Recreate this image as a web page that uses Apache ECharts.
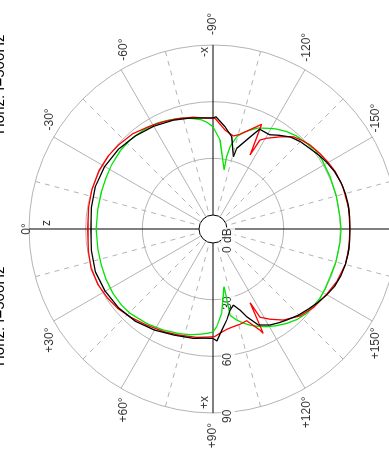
<!DOCTYPE html>
<html>
<head>
<meta charset="utf-8">
<script src="https://cdn.jsdelivr.net/npm/echarts@6/dist/echarts.min.js"></script>
<style>
  html, body { margin: 0; padding: 0; background: #fff; overflow: hidden; width: 389px; height: 457px; }
  /* the polar plot is laid out upright and then turned a quarter turn counter-clockwise */
  #chart { position: absolute; left: 0; top: 0; width: 457px; height: 389px;
           transform-origin: 0 0; transform: translate(0, 457px) rotate(-90deg); }
</style>
</head>
<body>
<div id="chart"></div>
<script>
// Directivity, horizontal plane, f = 500 Hz.
// Angles in degrees (0 = front, +90 = +x side, -90 = -x side), levels on the radial scale.
const blackAngles = [-180, -175, -170, -165, -160, -155, -150, -145, -140, -135, -130, -125, -121, -115, -112, -106.4, -105.7, -101.5, -96.7, -91.5, -90, -85, -78, -70, -60, -50, -40, -30, -20, -10, 0, 10, 20, 30, 40, 50, 60, 70, 80, 85, 90, 92, 95, 98.6, 102, 105, 108.4, 111, 115.3, 120.7, 125, 129, 135, 140, 145, 150, 155, 160, 165, 170, 175];
const blackLevels = [65.1, 65.2, 65.3, 65.1, 64.7, 63.8, 62.5, 60.9, 59.2, 58.0, 56.2, 53.2, 50.8, 50.9, 45.2, 37.1, 32.3, 42.4, 47.1, 52.0, 51.4, 51.6, 52.6, 53.9, 55.4, 56.8, 58.1, 58.8, 58.8, 58.0, 57.2, 58.0, 58.9, 58.5, 57.7, 56.4, 54.4, 52.4, 51.4, 50.6, 50.5, 51.9, 46.3, 41.3, 36.4, 34.3, 37.8, 42.3, 48.8, 51.7, 53.2, 54.6, 56.9, 58.5, 60.4, 62.2, 63.8, 64.7, 65.1, 65.3, 65.2];

const redAngles = [-180, -172, -162, -155, -150, -145, -139, -135, -131, -126, -120.6, -117.8, -116.6, -114.9, -105.9, -102.3, -96.9, -91, -85, -80, -72, -65, -58, -50, -42, -35, -27, -18, -10, 0, 10, 18, 26, 33, 40, 46.6, 55, 64.2, 72, 81.4, 88, 91, 93.8, 97.8, 101.7, 105.8, 110.2, 114.9, 115.7, 116.7, 118, 122.3, 127.7, 135, 142, 150, 157, 165, 172];
const redLevels = [65.1, 65.3, 64.9, 64.1, 63.0, 61.9, 60.5, 59.0, 57.3, 52.9, 48.4, 45.8, 36.4, 53.7, 44.7, 43.0, 45.4, 51.2, 51.6, 52.7, 54.0, 55.2, 56.6, 58.5, 59.5, 60.2, 60.4, 60.0, 59.5, 58.9, 59.6, 60.4, 60.2, 59.3, 58.2, 56.6, 54.5, 52.9, 51.6, 50.6, 49.8, 49.5, 47.9, 46.2, 45.4, 45.0, 44.3, 51.6, 53.9, 36.3, 45.5, 49.1, 53.5, 57.7, 60.1, 61.9, 63.8, 65.1, 65.3];

const greenAngles = [-180, -174.5, -165, -156, -148, -142, -137.6, -132, -127, -122, -118, -114, -110.5, -107, -104.4, -101.7, -100.7, -100.6, -94.5, -90, -87, -84, -80, -75, -68, -62, -55, -47, -40, -32, -25, -18, -10, 0, 10, 18, 25, 33, 40, 45.4, 55, 63.8, 72, 78, 83, 87, 90, 92.2, 95.9, 100.8, 101.2, 104.6, 108, 111, 115, 118.8, 123, 128, 133, 138, 146.7, 152, 157.8, 165, 173.6];
const greenLevels = [60.4, 60.1, 60.2, 60.5, 60.9, 60.9, 59.8, 58.8, 57.2, 55.1, 53.0, 51.1, 48.5, 45.8, 43.0, 37.1, 31.6, 24.4, 39.9, 46.7, 49.0, 50.7, 51.9, 53.5, 54.8, 56.0, 56.6, 57.0, 56.8, 56.1, 55.3, 54.8, 54.5, 54.5, 54.5, 54.7, 55.2, 55.6, 55.6, 55.2, 53.7, 52.2, 50.8, 49.8, 48.7, 47.9, 47.1, 44.3, 37.5, 23.7, 39.2, 42.4, 45.0, 47.1, 49.5, 51.6, 53.7, 56.0, 58.0, 59.3, 60.1, 59.8, 59.5, 59.9, 60.2];

// scale annotations
const angleTicks = [0, 30, 60, 90, 120, 150, -30, -60, -90, -120, -150];
const angleTickLabels = ['0°', '+30°', '+60°', '+90°', '+120°', '+150°', '-30°', '-60°', '-90°', '-120°', '-150°'];
const radialTicks = [0, 30, 60, 90];
const radialTickLabels = ['0 dB', '30', '60', '90'];
const axisNames = ['z', '+x', '-x'];
const axisNameAngles = [0, 90, -90];
const titleText = 'Horiz. f=500Hz';

const FONT = 'Liberation Sans, Arial, sans-serif';
const GRID = '#b4b4b4';
const R_MAX = 90;

// the angle axis runs from +90 round to +450 so that its start (where the radial scale sits) is the +90 side
function wrap(a) { return a < 90 ? a + 360 : a; }

function toPolar(angles, levels) {
  const pts = angles.map((a, i) => [levels[i], wrap(a)]);
  pts.sort((p, q) => p[1] - q[1]);
  pts.push([pts[0][0], pts[0][1] + 360]);
  return pts;
}

function curve(name, color, angles, levels, z) {
  return {
    name, type: 'line', coordinateSystem: 'polar', z,
    data: toPolar(angles, levels),
    showSymbol: false, symbol: 'none', smooth: false,
    lineStyle: { color, width: 1.3 },
    silent: true, animation: false
  };
}

// placement of an angle label just outside the rim, depending on where it sits around the circle
function angleLabelStyle(a) {
  const side = a > 0 ? -1 : 1;           // +angles are on the left of the upright plot
  const m = Math.abs(a);
  if (m === 0) return { align: 'center', verticalAlign: 'bottom', offset: [0, 4] };
  const align = side > 0 ? 'left' : 'right';
  if (m === 30) return { align, verticalAlign: 'bottom', offset: [side * 6.5, 2] };
  if (m === 60) return { align, verticalAlign: 'middle', offset: [side * 9, 2.5] };
  if (m === 90) return { align, verticalAlign: 'middle', offset: [side * 10, 0] };
  if (m === 120) return { align, verticalAlign: 'middle', offset: [side * 8, 2] };
  return { align, verticalAlign: 'top', offset: [side > 0 ? 4.5 : -6.5, -2.5] };
}

const textBase = { color: '#000', fontFamily: FONT, fontSize: 12 };

const chart = echarts.init(document.getElementById('chart'), null, { renderer: 'canvas' });

chart.setOption({
  backgroundColor: '#fff',
  animation: false,
  title: [
    { text: titleText, left: 318, top: -13, textStyle: { fontFamily: FONT, fontSize: 15, fontWeight: 'normal', color: '#000' } },
    { text: titleText, left: 86, top: -13, textStyle: { fontFamily: FONT, fontSize: 15, fontWeight: 'normal', color: '#000' } }
  ],
  polar: { center: [228, 213], radius: [14, 184] },
  angleAxis: {
    type: 'value', min: 90, max: 450, interval: 30,
    startAngle: 180, clockwise: false,
    axisLine: { show: false },
    axisTick: { show: false },
    axisLabel: { show: false },
    splitLine: { show: true, lineStyle: { color: ['#000', GRID, GRID], width: 1 } },
    minorTick: { show: false, splitNumber: 2 },
    minorSplitLine: { show: true, lineStyle: { color: GRID, width: 1, type: [5, 5] } }
  },
  radiusAxis: {
    type: 'value', min: 0, max: R_MAX, interval: 30,
    axisLine: { show: false },
    axisTick: { show: false },
    axisLabel: { show: false },
    splitLine: { show: true, lineStyle: { color: ['#000', GRID, GRID, GRID], width: 1 } }
  },
  series: [
    {
      name: 'angle labels', type: 'scatter', coordinateSystem: 'polar', z: 1,
      symbolSize: 0, silent: true, animation: false,
      data: angleTicks.map((a, i) => ({
        name: angleTickLabels[i], value: [R_MAX, wrap(a)],
        label: Object.assign({ show: true, position: [0, 0], formatter: '{b}' }, textBase, angleLabelStyle(a))
      }))
    },
    {
      name: 'radial labels', type: 'scatter', coordinateSystem: 'polar', z: 1,
      symbolSize: 0, silent: true, animation: false,
      data: radialTicks.map((r, i) => ({
        name: radialTickLabels[i], value: [r, wrap(90)],
        label: Object.assign({ show: true, position: [0, 0], formatter: '{b}',
          align: 'left', verticalAlign: 'middle', offset: [-11, 15],
          backgroundColor: '#fff', padding: [1, 1] }, textBase)
      }))
    },
    curve('green', '#00e400', greenAngles, greenLevels, 3),
    curve('red', '#ff0000', redAngles, redLevels, 4),
    curve('black', '#000000', blackAngles, blackLevels, 5),
    {
      name: 'axis names', type: 'scatter', coordinateSystem: 'polar', z: 6,
      symbolSize: 0, silent: true, animation: false,
      data: axisNames.map((n, i) => ({
        name: n, value: [i === 0 ? 80.5 : (i === 1 ? 84.5 : 86.3), wrap(axisNameAngles[i])],
        label: Object.assign({ show: true, position: [0, 0], formatter: '{b}',
          align: 'center', verticalAlign: 'middle',
          offset: i === 0 ? [6, 0] : [0, -8] }, textBase)
      }))
    }
  ]
});
</script>
</body>
</html>
